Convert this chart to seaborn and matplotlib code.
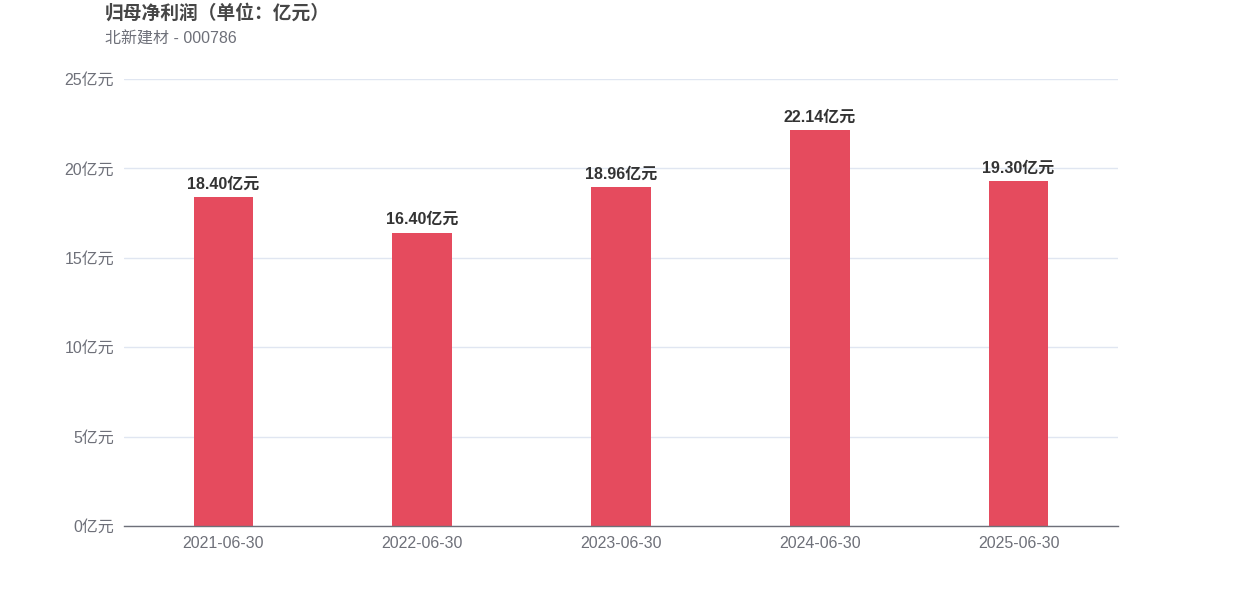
import pandas as pd
import matplotlib.pyplot as plt
import seaborn as sns

# data
dates = ["2021-06-30", "2022-06-30", "2023-06-30", "2024-06-30", "2025-06-30"]
profit = [18.40, 16.40, 18.96, 22.14, 19.30]
yticks = [0, 5, 10, 15, 20, 25]

df = pd.DataFrame({"date": dates, "profit": profit})

sns.set_style("white")
plt.rcParams["font.family"] = ["Liberation Sans", "Noto Sans CJK SC", "DejaVu Sans"]

fig = plt.figure(figsize=(12.42, 5.96), dpi=100)
ax = fig.add_axes([124 / 1242, 1 - 526 / 596, 994 / 1242, 447 / 596])

sns.barplot(data=df, x="date", y="profit", color="#e54b5e", width=0.3,
            saturation=1, linewidth=0, ax=ax, zorder=3)

ax.set_ylim(0, 25)
ax.set_xlim(-0.5, len(dates) - 0.5)
ax.set_yticks(yticks)
ax.set_yticklabels([f"{v}亿元" for v in yticks])
ax.set_xlabel("")
ax.set_ylabel("")
ax.grid(axis="y", color="#e0e6f1", linewidth=1, zorder=0)
for s in ["top", "right", "left"]:
    ax.spines[s].set_visible(False)
ax.spines["bottom"].set_color("#6e7079")
ax.spines["bottom"].set_linewidth(1)
ax.spines["bottom"].set_zorder(4)
ax.tick_params(axis="both", length=0, labelsize=11.5, colors="#6e7079")
ax.tick_params(axis="y", pad=7)
ax.tick_params(axis="x", pad=7)

for i, v in enumerate(profit):
    ax.annotate(f"{v:.2f}亿元", (i, v), xytext=(0, 4), textcoords="offset points",
                ha="center", va="bottom", fontsize=11.5, fontweight="bold",
                color="#333333")

fig.text(105 / 1242, 1 - 13 / 596, "归母净利润（单位：亿元）", fontsize=13.5,
         fontweight="bold", color="#464646", va="center", ha="left")
fig.text(105 / 1242, 1 - 39 / 596, "北新建材 - 000786", fontsize=11.5,
         color="#6e7079", va="center", ha="left")

fig.savefig("out.png", dpi=100, facecolor="white")
